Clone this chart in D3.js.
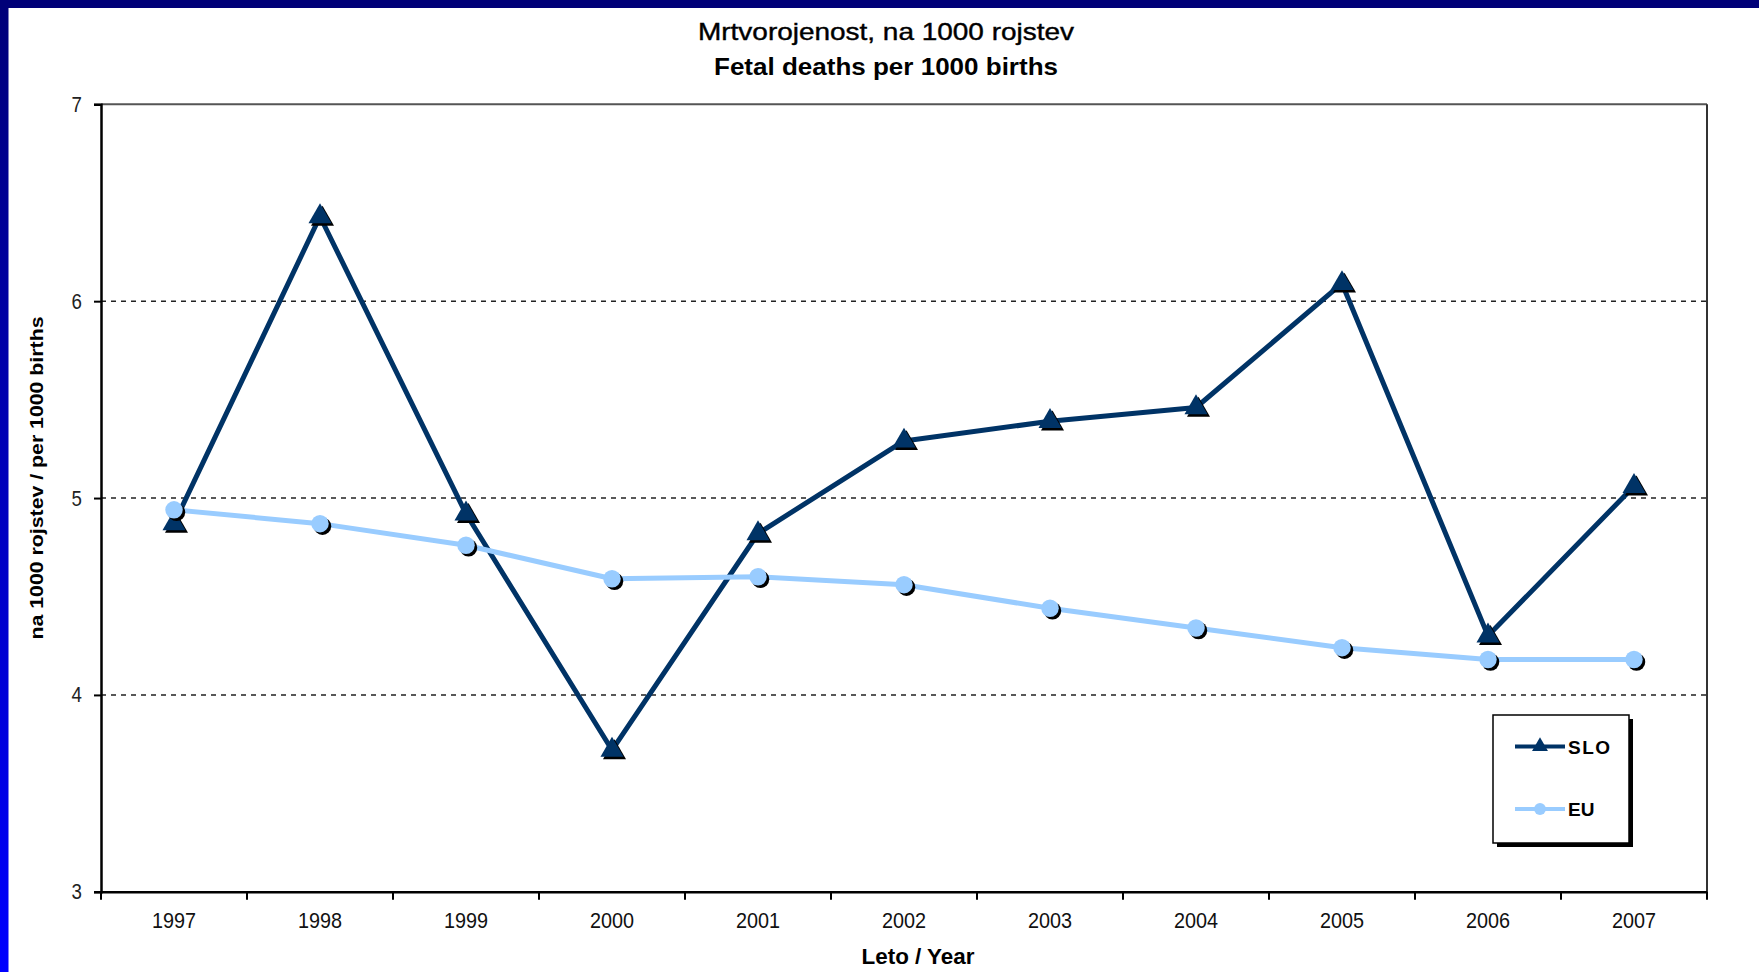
<!DOCTYPE html>
<html>
<head>
<meta charset="utf-8">
<script src="https://cdn.jsdelivr.net/npm/d3@7"></script>
<style>
  html, body { margin: 0; padding: 0; background: #fff; }
  svg { display: block; font-family: "Liberation Sans", Arial, sans-serif; }
</style>
</head>
<body>
<svg id="chart" width="1759" height="972"></svg>
<script>
// ---- data ----
const years = ["1997","1998","1999","2000","2001","2002","2003","2004","2005","2006","2007"];
const sloValues = [4.87, 6.43, 4.92, 3.72, 4.82, 5.29, 5.39, 5.46, 6.09, 4.30, 5.06];
const euValues  = [4.94, 4.87, 4.76, 4.59, 4.60, 4.56, 4.44, 4.34, 4.24, 4.18, 4.18];
const yTicks = [3, 4, 5, 6, 7];
const gridTicks = [4, 5, 6];
const seriesNames = ["SLO", "EU"];
const titleLines = ["Mrtvorojenost, na 1000 rojstev", "Fetal deaths per 1000 births"];
const yAxisTitle = "na 1000 rojstev / per 1000 births";
const xAxisTitle = "Leto / Year";

// ---- layout ----
const W = 1759, H = 972;
const plot = { left: 101, right: 1707, top: 104.3, bottom: 891.8 };
const sloColor = "#003366", euColor = "#99ccff";

const svg = d3.select("#chart");

function narrow(sel, f) {
  sel.each(function () {
    const l = this.getComputedTextLength();
    d3.select(this).attr("textLength", l * f).attr("lengthAdjust", "spacingAndGlyphs");
  });
}
function fitTo(sel, len) {
  sel.attr("textLength", len).attr("lengthAdjust", "spacingAndGlyphs");
}

// ---- background frame ----
const defs = svg.append("defs");
const grad = defs.append("linearGradient").attr("id", "leftGrad")
  .attr("x1", 0).attr("y1", 0).attr("x2", 0).attr("y2", 1);
grad.append("stop").attr("offset", "0%").attr("stop-color", "#000078");
grad.append("stop").attr("offset", "100%").attr("stop-color", "#0000ff");
svg.append("rect").attr("x", 0).attr("y", 0).attr("width", W).attr("height", H).attr("fill", "#fff");
svg.append("rect").attr("x", 0).attr("y", 0).attr("width", 8.5).attr("height", H).attr("fill", "url(#leftGrad)");
svg.append("rect").attr("x", 0).attr("y", 0).attr("width", W).attr("height", 8).attr("fill", "#000078");

// ---- scales ----
const x = d3.scaleBand().domain(years).range([plot.left, plot.right]).padding(0);
const y = d3.scaleLinear().domain([3, 7]).range([plot.bottom, plot.top]);
const cx = d => x(d) + x.bandwidth() / 2;

// ---- gridlines ----
svg.append("g").selectAll("line").data(gridTicks).join("line")
  .attr("x1", plot.left).attr("x2", plot.right)
  .attr("y1", d => y(d)).attr("y2", d => y(d))
  .attr("stroke", "#222").attr("stroke-width", 1.6).attr("stroke-dasharray", "5,5");

// plot border top/right
svg.append("line").attr("x1", plot.left).attr("x2", plot.right).attr("y1", plot.top).attr("y2", plot.top)
  .attr("stroke", "#555").attr("stroke-width", 2);
svg.append("line").attr("x1", plot.right).attr("x2", plot.right).attr("y1", plot.top).attr("y2", plot.bottom)
  .attr("stroke", "#333").attr("stroke-width", 2);

// ---- axes ----
const yAxis = svg.append("g").attr("transform", `translate(${plot.left},0)`)
  .call(d3.axisLeft(y).tickValues(yTicks).tickSize(7).tickPadding(12).tickFormat(d3.format("d")));
yAxis.select(".domain").attr("stroke", "#000").attr("stroke-width", 2.5);
yAxis.selectAll(".tick line").attr("stroke", "#000").attr("stroke-width", 2);
yAxis.selectAll(".tick text").attr("font-size", 22).attr("fill", "#222")
  .attr("font-family", "'Liberation Sans', Arial, sans-serif").call(narrow, 0.85);

const xAxis = svg.append("g").attr("transform", `translate(0,${plot.bottom})`)
  .call(d3.axisBottom(x).tickSize(0).tickPadding(21));
xAxis.select(".domain").attr("stroke", "#000").attr("stroke-width", 2.5);
xAxis.selectAll(".tick text").attr("font-size", 22).attr("fill", "#111")
  .attr("font-family", "'Liberation Sans', Arial, sans-serif").call(narrow, 0.9);
// boundary ticks
const bounds = years.map(d => x(d)).concat([x(years[years.length - 1]) + x.bandwidth()]);
svg.append("g").selectAll("line").data(bounds).join("line")
  .attr("x1", d => d).attr("x2", d => d)
  .attr("y1", plot.bottom).attr("y2", plot.bottom + 8)
  .attr("stroke", "#000").attr("stroke-width", 2);

// ---- titles ----
svg.append("text").attr("x", 886).attr("y", 40).attr("text-anchor", "middle")
  .attr("font-size", 24).attr("fill", "#000").attr("stroke", "#000").attr("stroke-width", 0.4)
  .text(titleLines[0]).call(fitTo, 376);
svg.append("text").attr("x", 886).attr("y", 75).attr("text-anchor", "middle")
  .attr("font-size", 24).attr("font-weight", "bold").attr("fill", "#000").text(titleLines[1]).call(fitTo, 344);
svg.append("text").attr("transform", "translate(43,478) rotate(-90)").attr("text-anchor", "middle")
  .attr("font-size", 19).attr("font-weight", "bold").attr("fill", "#000").text(yAxisTitle).call(fitTo, 323);
svg.append("text").attr("x", 918).attr("y", 964).attr("text-anchor", "middle")
  .attr("font-size", 22).attr("font-weight", "bold").attr("fill", "#000").text(xAxisTitle).call(fitTo, 113);

// ---- series ----
const line = d3.line().x(d => cx(d.year)).y(d => y(d.v));
const sloData = years.map((yr, i) => ({ year: yr, v: sloValues[i] }));
const euData = years.map((yr, i) => ({ year: yr, v: euValues[i] }));

const tri = d3.symbol().type(d3.symbolTriangle).size(230);
const circ = d3.symbol().type(d3.symbolCircle).size(240);

function drawSeries(data, color, sym) {
  svg.append("path").datum(data).attr("d", line)
    .attr("fill", "none").attr("stroke", color).attr("stroke-width", 5).attr("stroke-linejoin", "round");
  const g = svg.append("g");
  g.selectAll("path.sh").data(data).join("path").attr("class", "sh")
    .attr("d", sym).attr("transform", d => `translate(${cx(d.year) + 2.5},${y(d.v) + 2.5})`).attr("fill", "#000");
  g.selectAll("path.mk").data(data).join("path").attr("class", "mk")
    .attr("d", sym).attr("transform", d => `translate(${cx(d.year)},${y(d.v)})`).attr("fill", color);
}
drawSeries(sloData, sloColor, tri);
drawSeries(euData, euColor, circ);

// ---- legend ----
const lg = svg.append("g");
lg.append("rect").attr("x", 1497).attr("y", 719).attr("width", 136).attr("height", 128).attr("fill", "#000");
lg.append("rect").attr("x", 1493).attr("y", 715).attr("width", 136).attr("height", 128)
  .attr("fill", "#fff").attr("stroke", "#000").attr("stroke-width", 1.5);
const legendItems = [
  { name: seriesNames[0], color: sloColor, sym: d3.symbol().type(d3.symbolTriangle).size(110), yy: 746.5 },
  { name: seriesNames[1], color: euColor, sym: d3.symbol().type(d3.symbolCircle).size(110), yy: 809 }
];
legendItems.forEach(it => {
  lg.append("line").attr("x1", 1515).attr("x2", 1565).attr("y1", it.yy).attr("y2", it.yy)
    .attr("stroke", it.color).attr("stroke-width", 4);
  lg.append("path").attr("d", it.sym).attr("transform", `translate(1540,${it.yy})`).attr("fill", it.color);
  lg.append("text").attr("x", 1568).attr("y", it.yy + 7).attr("font-size", 19).attr("font-weight", "bold")
    .attr("fill", "#000").attr("letter-spacing", it.name === "SLO" ? 1.5 : 0).text(it.name);
});
</script>
</body>
</html>
